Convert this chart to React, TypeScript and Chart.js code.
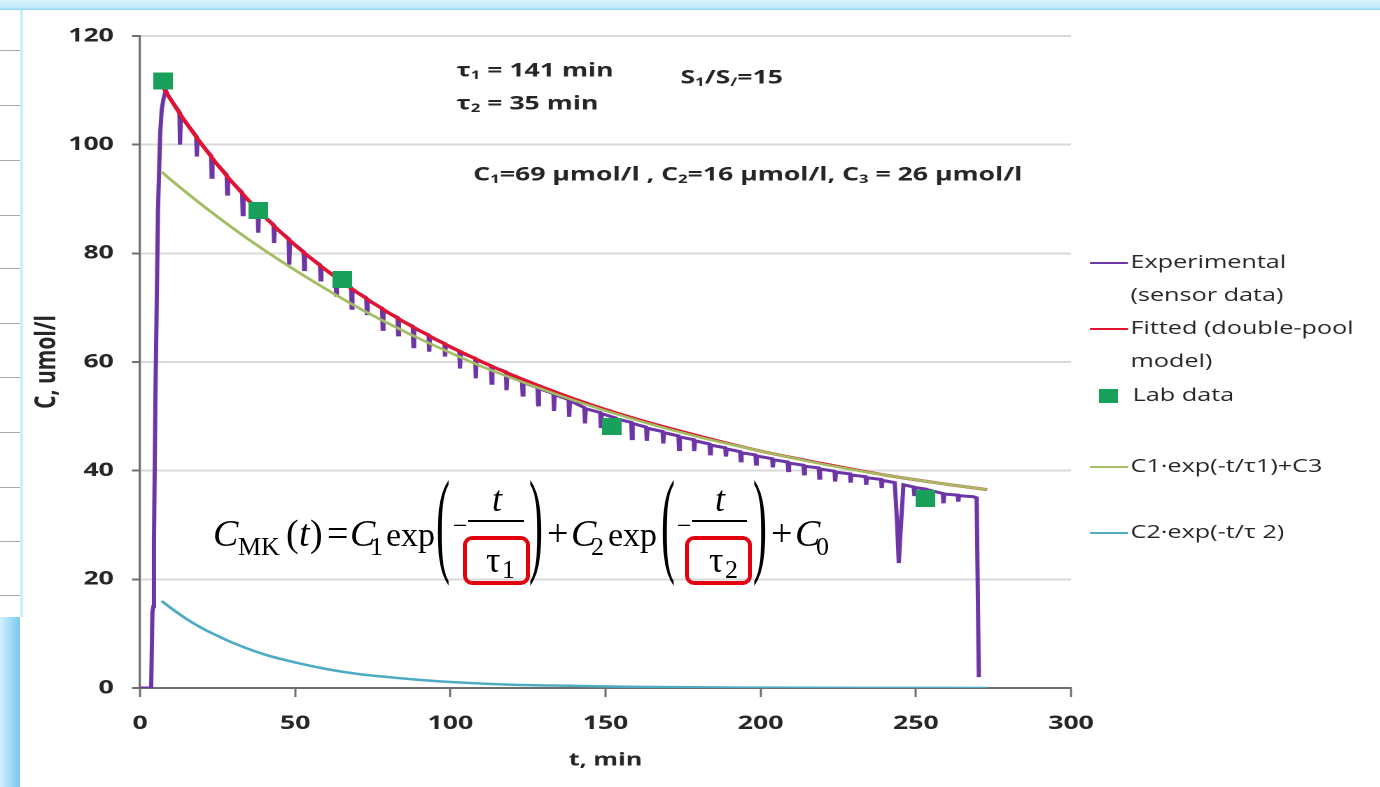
import { useEffect, useRef } from 'react';
import { Chart, registerables } from 'chart.js';

Chart.register(...registerables);

// ---- data -------------------------------------------------------------
// Sensor trace: [time (min), concentration (umol/l)]
const sensorTrace: [number, number][] = [
  [0, 0], [3.6, 0], [4.0, 14], [4.3, 15], [4.5, 27], [5.0, 55], [5.8, 88], [6.5, 102],
  [7.0, 106.5], [7.6, 108.5], [8.3, 110], [9.0, 109.1],
  [12.7, 106.0], [12.9, 100.0], [13.15, 105.3],
  [18.1, 101.6], [18.3, 97.8], [18.55, 100.9],
  [22.9, 98.0], [23.1, 94.0], [23.35, 97.3],
  [27.9, 94.5], [28.1, 90.9], [28.35, 93.9],
  [32.9, 91.2], [33.1, 87.1], [33.35, 90.6],
  [37.9, 88.1], [38.1, 83.8], [38.35, 87.6],
  [43.0, 85.3], [43.2, 81.9], [43.45, 84.8],
  [47.9, 82.7], [48.1, 77.9], [48.35, 82.3],
  [52.7, 80.3], [52.9, 77.0], [53.15, 79.9],
  [58.0, 77.9], [58.2, 75.1], [58.45, 77.5],
  [63.0, 75.7], [63.2, 72.3], [63.45, 75.3],
  [68.0, 73.7], [68.2, 69.9], [68.45, 73.3],
  [72.9, 71.8], [73.1, 68.9], [73.35, 71.4],
  [78.0, 69.9], [78.2, 66.0], [78.45, 69.5],
  [83.0, 68.2], [83.2, 65.0], [83.45, 67.8],
  [87.9, 66.6], [88.1, 62.8], [88.35, 66.2],
  [93.0, 65.0], [93.2, 61.9], [93.45, 64.6],
  [98.1, 63.4], [98.3, 61.0], [98.55, 63.1],
  [102.9, 62.0], [103.1, 58.8], [103.35, 61.7],
  [108.0, 60.7], [108.2, 57.0], [108.45, 60.4],
  [113.1, 59.3], [113.3, 56.1], [113.55, 59.1],
  [117.9, 58.2], [118.1, 54.8], [118.35, 57.9],
  [123.1, 56.4], [123.3, 53.9], [123.55, 56.2],
  [128.1, 55.3], [128.3, 52.1], [128.55, 55.1],
  [133.2, 54.2], [133.4, 51.0], [133.65, 54.0],
  [138.1, 53.1], [138.3, 49.9], [138.55, 52.9],
  [143.2, 51.6], [143.4, 48.7], [143.65, 51.4],
  [148.3, 50.7], [148.5, 48.1], [148.75, 50.5],
  [153.3, 49.7], [153.5, 47.0], [153.75, 49.5],
  [158.3, 48.9], [158.5, 45.9], [158.75, 48.7],
  [163.1, 48.0], [163.3, 45.5], [163.55, 47.8],
  [168.4, 47.2], [168.6, 45.0], [168.85, 47.0],
  [173.5, 46.4], [173.7, 43.9], [173.95, 46.2],
  [178.4, 45.7], [178.6, 43.6], [178.85, 45.5],
  [183.5, 44.9], [183.7, 43.1], [183.95, 44.7],
  [188.6, 44.2], [188.8, 42.6], [189.05, 44.0],
  [193.4, 43.5], [193.6, 41.8], [193.85, 43.3],
  [198.3, 42.9], [198.5, 41.2], [198.75, 42.7],
  [203.7, 42.2], [203.9, 40.6], [204.15, 42.0],
  [208.7, 41.6], [208.9, 40.0], [209.15, 41.4],
  [213.8, 41.0], [214.0, 39.4], [214.25, 40.8],
  [218.7, 40.5], [218.9, 38.6], [219.15, 40.3],
  [223.8, 39.9], [224.0, 38.0], [224.25, 39.7],
  [228.8, 39.4], [229.0, 37.8], [229.25, 39.2],
  [233.8, 38.9], [234.0, 37.4], [234.25, 38.7],
  [238.8, 38.4], [239.0, 36.8], [239.25, 38.2],
  [243.2, 37.8], [243.9, 31.0], [244.5, 23.0], [245.1, 29.0], [246.0, 37.4],
  [249.3, 37.0], [249.5, 35.6], [249.75, 36.9],
  [253.2, 36.6], [253.4, 35.0], [253.65, 36.5],
  [258.7, 35.8], [258.9, 34.0], [259.15, 35.7],
  [263.5, 35.5], [263.7, 34.3], [263.95, 35.4],
  [268.5, 35.2], [269.6, 35.0], [270.3, 2.0],
];

// Double-pool model fit
const fitTime = [7, 10, 15, 20, 25, 30, 40, 50, 60, 70, 80, 90, 100, 110, 120, 140, 160, 180, 200, 220, 240, 260, 273];
const fitValue = [111.0, 108.2, 103.9, 100.0, 96.3, 92.9, 86.8, 81.5, 76.9, 72.8, 69.1, 65.8, 62.8, 60.1, 57.6, 53.2, 49.5, 46.4, 43.6, 41.3, 39.2, 37.5, 36.5];

// Slow pool plus baseline: C1·exp(-t/τ1)+C3
const slowTime = [7, 10, 20, 30, 40, 50, 60, 70, 80, 90, 100, 110, 120, 140, 160, 180, 200, 220, 240, 260, 273];
const slowValue = [95.0, 93.5, 88.9, 84.6, 80.6, 76.9, 73.4, 70.1, 67.1, 64.3, 61.7, 59.2, 57.0, 52.9, 49.3, 46.2, 43.6, 41.2, 39.2, 37.5, 36.5];

// Fast pool: C2·exp(-t/τ2)
const fastTime = [7, 10, 15, 20, 25, 30, 40, 50, 60, 70, 80, 90, 100, 120, 140, 160, 200, 240, 273];
const fastValue = [16.0, 14.7, 12.7, 11.0, 9.6, 8.3, 6.2, 4.7, 3.5, 2.6, 2.0, 1.5, 1.1, 0.6, 0.4, 0.2, 0.06, 0.02, 0.01];

// Laboratory samples
const labTime = [7.5, 38.1, 65.3, 152.0, 253.0];
const labValue = [111.7, 87.9, 75.2, 48.1, 34.9];

const seriesLabels = [
  'Experimental\n(sensor data)',
  'Fitted (double-pool\nmodel)',
  'Lab data',
  'C1·exp(-t/τ1)+C3',
  'C2·exp(-t/τ 2)',
];

const xRange = [0, 300];
const xStep = 50;
const yRange = [0, 120];
const yStep = 20;
const xTitle = 't, min';
const yTitle = 'C, umol/l';

// Parameter notes: [text, isSubscript]
type Run = [string, boolean];
const noteTau1: Run[] = [['τ', false], ['1', true], [' = 141 min', false]];
const noteTau2: Run[] = [['τ', false], ['2', true], [' = 35 min', false]];
const noteRatio: Run[] = [['S', false], ['1', true], ['/S', false], ['/', true], ['=15', false]];
const noteConc: Run[] = [
  ['C', false], ['1', true], ['=69 μmol/l , C', false], ['2', true],
  ['=16 μmol/l, C', false], ['3', true], [' = 26 μmol/l', false],
];

// ---- styling -----------------------------------------------------------
const PURPLE = '#6d35a6';
const RED = '#e3122e';
const LAB_GREEN = '#19a05a';
const OLIVE = '#a3bd62';
const TEAL = '#4eabc4';
const TEXT = '#262626';
const AXIS = '#6e6e6e';
const GRID = '#d9d9d9';
const FONT = "'Open Sans', 'DejaVu Sans', sans-serif";

// the plot is drawn on a narrower canvas that is stretched horizontally
const SX = 1.4;
const CW = Math.round(1380 / SX);

function drawRuns(ctx: CanvasRenderingContext2D, runs: Run[], x: number, y: number, size: number) {
  let cx = x;
  for (const [t, sub] of runs) {
    const s = sub ? Math.round(size * 0.64) : size;
    ctx.font = `bold ${s}px ${FONT}`;
    ctx.fillText(t, cx, sub ? y + size * 0.24 : y);
    cx += ctx.measureText(t).width;
  }
}

const overlayPlugin = {
  id: 'overlayNotes',
  afterDraw(chart: any) {
    const ctx: CanvasRenderingContext2D = chart.ctx;
    ctx.save();
    ctx.fillStyle = TEXT;
    ctx.textBaseline = 'middle';
    ctx.textAlign = 'left';

    drawRuns(ctx, noteTau1, 326, 71, 19);
    drawRuns(ctx, noteTau2, 326, 104, 19);
    drawRuns(ctx, noteRatio, 486, 78, 19);
    drawRuns(ctx, noteConc, 338, 175, 19);

    // legend
    const rowY = [263, 329, 396, 467, 533];
    const lineH = 33;
    const x0 = 778.6;
    const x1 = 805.7;
    const tx = 807.5;
    chart.data.datasets.forEach((ds: any, i: number) => {
      const y = rowY[i];
      if (ds.showLine === false) {
        ctx.fillStyle = ds.backgroundColor;
        ctx.fillRect(785, y - 7, 13.5, 14);
      } else {
        ctx.strokeStyle = ds.borderColor;
        ctx.lineWidth = 2;
        ctx.beginPath();
        ctx.moveTo(x0, y);
        ctx.lineTo(x1, y);
        ctx.stroke();
      }
      ctx.fillStyle = TEXT;
      ctx.font = `18px ${FONT}`;
      String(ds.label).split('\n').forEach((line: string, k: number) => {
        ctx.fillText(line, ds.showLine === false ? 809 : tx, y + k * lineH);
      });
    });
    ctx.restore();
  },
};

function PlotCanvas() {
  const ref = useRef<HTMLCanvasElement | null>(null);
  useEffect(() => {
    if (!ref.current) return;
    const square = document.createElement('canvas');
    square.width = 14;
    square.height = 17;
    const sctx = square.getContext('2d')!;
    sctx.fillStyle = LAB_GREEN;
    sctx.fillRect(0, 0, 14, 17);

    const pts = (xs: number[], ys: number[]) => xs.map((x, i) => ({ x, y: ys[i] }));

    const chart = new Chart(ref.current, {
      type: 'line',
      data: {
        datasets: [
          {
            label: seriesLabels[0],
            data: sensorTrace.map(([x, y]) => ({ x, y })),
            borderColor: PURPLE,
            borderWidth: 3,
            pointRadius: 0,
            tension: 0,
            order: 4,
          },
          {
            label: seriesLabels[1],
            data: pts(fitTime, fitValue),
            borderColor: RED,
            borderWidth: 3,
            pointRadius: 0,
            cubicInterpolationMode: 'monotone',
            order: 3,
          },
          {
            label: seriesLabels[2],
            data: pts(labTime, labValue),
            showLine: false,
            backgroundColor: LAB_GREEN,
            borderColor: LAB_GREEN,
            pointStyle: square,
            pointRadius: 8,
            order: 0,
          },
          {
            label: seriesLabels[3],
            data: pts(slowTime, slowValue),
            borderColor: OLIVE,
            borderWidth: 2.5,
            pointRadius: 0,
            cubicInterpolationMode: 'monotone',
            order: 1,
          },
          {
            label: seriesLabels[4],
            data: pts(fastTime, fastValue),
            borderColor: TEAL,
            borderWidth: 2.5,
            pointRadius: 0,
            cubicInterpolationMode: 'monotone',
            order: 2,
          },
        ],
      } as any,
      options: {
        animation: false,
        responsive: true,
        maintainAspectRatio: false,
        devicePixelRatio: 2,
        events: [],
        layout: { padding: { top: 36, right: CW - 765, left: 0, bottom: 0 } },
        plugins: { legend: { display: false }, tooltip: { enabled: false } },
        scales: {
          x: {
            type: 'linear',
            min: xRange[0],
            max: xRange[1],
            afterFit: (s: any) => { s.height = 99; },
            ticks: {
              stepSize: xStep,
              maxRotation: 0,
              padding: 15,
              color: TEXT,
              font: { family: FONT, size: 19, weight: 'bold' },
            },
            grid: { drawOnChartArea: false, drawTicks: true, tickLength: 9, tickColor: AXIS, tickWidth: 1.5 },
            border: { display: true, color: AXIS, width: 2 },
            title: {
              display: true,
              text: xTitle,
              color: TEXT,
              font: { family: FONT, size: 18, weight: 'bold' },
              padding: { top: 0, bottom: 16 },
            },
          },
          y: {
            type: 'linear',
            min: yRange[0],
            max: yRange[1],
            afterFit: (s: any) => { s.width = 100; },
            ticks: {
              stepSize: yStep,
              padding: 13,
              color: TEXT,
              font: { family: FONT, size: 19, weight: 'bold' },
            },
            grid: {
              color: (c: any) => (c.tick && c.tick.value === 0 ? 'rgba(0,0,0,0)' : GRID),
              lineWidth: 2,
              tickLength: 5.7,
              tickColor: AXIS,
              tickWidth: 2,
            },
            border: { display: true, color: AXIS, width: 1.6 },
            title: {
              display: true,
              text: yTitle,
              color: TEXT,
              font: { family: FONT, size: 21, weight: 'bold' },
              padding: { top: 21, bottom: 0 },
            },
          },
        },
      } as any,
      plugins: [overlayPlugin],
    });
    return () => chart.destroy();
  }, []);

  return (
    <div
      style={{
        position: 'absolute',
        left: 0,
        top: 0,
        width: CW,
        height: 787,
        transform: `scaleX(${SX})`,
        transformOrigin: '0 0',
      }}
    >
      <canvas ref={ref} />
    </div>
  );
}

function ModelFormula() {
  const serif = "'Liberation Serif', 'Times New Roman', serif";
  const big = (x: number) => `translate(${x},561) scale(1.05,2.9)`;
  return (
    <svg
      width={1380}
      height={787}
      style={{ position: 'absolute', left: 0, top: 0, pointerEvents: 'none' }}
      fontFamily={serif}
      fill="#000"
    >
      <text x={213} y={546} fontSize={38} fontStyle="italic">C</text>
      <text x={238} y={555} fontSize={26}>MK</text>
      <text x={286} y={546} fontSize={38}>(</text>
      <text x={299} y={546} fontSize={38} fontStyle="italic">t</text>
      <text x={310} y={546} fontSize={38}>)</text>
      <text x={327} y={546} fontSize={38}>=</text>
      <text x={350} y={546} fontSize={38} fontStyle="italic">C</text>
      <text x={370} y={555} fontSize={26}>1</text>
      <text x={386} y={546} fontSize={34}>exp</text>

      <text transform={big(436)} fontSize={40}>(</text>
      <text x={453} y={534} fontSize={26}>−</text>
      <line x1={468} x2={524} y1={521} y2={521} stroke="#000" strokeWidth={2} />
      <text x={492} y={511} fontSize={36} fontStyle="italic">t</text>
      <text x={486} y={572} fontSize={36}>τ</text>
      <text x={502} y={578} fontSize={26}>1</text>
      <rect x={465} y={538} width={63} height={45} rx={7} fill="none" stroke="#e3000f" strokeWidth={4} />
      <text transform={big(529)} fontSize={40}>)</text>

      <text x={547} y={546} fontSize={38}>+</text>
      <text x={571} y={546} fontSize={38} fontStyle="italic">C</text>
      <text x={591} y={555} fontSize={26}>2</text>
      <text x={608} y={546} fontSize={34}>exp</text>

      <text transform={big(661)} fontSize={40}>(</text>
      <text x={677} y={534} fontSize={26}>−</text>
      <line x1={692} x2={747} y1={521} y2={521} stroke="#000" strokeWidth={2} />
      <text x={715} y={511} fontSize={36} fontStyle="italic">t</text>
      <text x={709} y={572} fontSize={36}>τ</text>
      <text x={725} y={578} fontSize={26}>2</text>
      <rect x={687} y={538} width={63} height={45} rx={7} fill="none" stroke="#e3000f" strokeWidth={4} />
      <text transform={big(753)} fontSize={40}>)</text>

      <text x={771} y={546} fontSize={38}>+</text>
      <text x={795} y={546} fontSize={38} fontStyle="italic">C</text>
      <text x={816} y={555} fontSize={26}>0</text>
    </svg>
  );
}

function SlideFrame() {
  const rows = [50, 105, 160, 215, 268, 323, 377, 432, 487, 541, 595];
  return (
    <>
      <div
        style={{
          position: 'absolute', left: 0, top: 0, width: 1380, height: 10,
          background: 'linear-gradient(to bottom, #dcf3fd, #c4eafa 70%, #94d6f2)',
        }}
      />
      <div style={{ position: 'absolute', left: 20, top: 10, width: 3, height: 607, background: '#cdedfb' }} />
      {rows.map((y) => (
        <div key={y} style={{ position: 'absolute', left: 0, top: y, width: 20, height: 1, background: '#a8a8a8' }} />
      ))}
      <div
        style={{
          position: 'absolute', left: 0, top: 617, width: 20, height: 170,
          background: 'linear-gradient(to right, #d3f0fc, #a6ddf5 50%, #80cbef 90%)',
        }}
      />
    </>
  );
}

export default function App() {
  return (
    <div
      style={{
        position: 'fixed', left: 0, top: 0, width: 1380, height: 787,
        overflow: 'hidden', background: '#ffffff',
      }}
    >
      <SlideFrame />
      <PlotCanvas />
      <ModelFormula />
    </div>
  );
}
